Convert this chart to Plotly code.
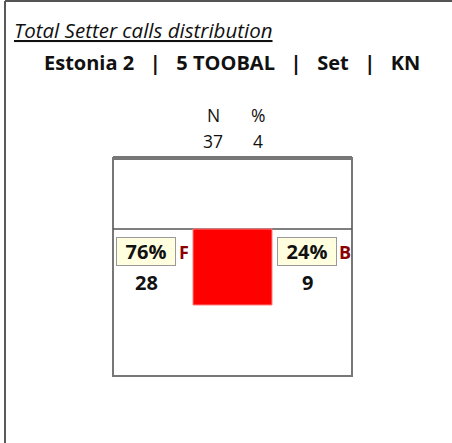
import plotly.graph_objects as go

# Setter call distribution for one rotation
team = "Estonia 2"
player = "5 TOOBAL"
skill = "Set"
code = "KN"
zones = ["F", "B"]
counts = [28, 9]
percents = [76, 24]
total_n = 37
total_pct = 4

# Court layout in pixel-like units (x: left->right, y: top->bottom)
court_x = [113, 352]
court_y = [158, 376]
net_y = 229
# highlighted call zone
zone_x = [193, 272]
zone_y = [229, 305]
label_cx = [146, 307]
tag_x = [184, 345]

FONT = "Open Sans"

fig = go.Figure()

# invisible trace so axes are created
fig.add_trace(go.Scatter(x=[0, 452], y=[0, 443], mode="markers",
                         marker=dict(opacity=0), hoverinfo="skip", showlegend=False))

shapes = []
# outer frame (left and top)
shapes.append(dict(type="line", x0=5, x1=5, y0=1, y1=443, line=dict(color="#222", width=1.5)))
shapes.append(dict(type="line", x0=5, x1=452, y0=1, y1=1, line=dict(color="#555", width=2)))
# court
shapes.append(dict(type="rect", x0=court_x[0], x1=court_x[1], y0=court_y[0], y1=court_y[1],
                   line=dict(color="#777", width=2), fillcolor="white", layer="below"))
shapes.append(dict(type="line", x0=court_x[0], x1=court_x[1], y0=court_y[0], y1=court_y[0],
                   line=dict(color="#777", width=4)))
shapes.append(dict(type="line", x0=court_x[0], x1=court_x[1], y0=net_y, y1=net_y,
                   line=dict(color="#555", width=1.5)))
shapes.append(dict(type="rect", x0=zone_x[0], x1=zone_x[1], y0=zone_y[0], y1=zone_y[1],
                   line=dict(color="#ff8080", width=1), fillcolor="#ff0000"))

annotations = [
    dict(x=12, y=30, xanchor="left", yanchor="middle", showarrow=False,
         text="<i><u>Total Setter calls distribution</u></i>",
         font=dict(family=FONT, size=20.5, color="#111")),
    dict(x=232, y=62, xanchor="center", yanchor="middle", showarrow=False,
         text=f"<b>{team}   |   {player}   |   {skill}   |   {code}</b>",
         font=dict(family=FONT, size=20, color="#111")),
]
for hx, head, val in [(213, "N", total_n), (258, "%", total_pct)]:
    annotations.append(dict(x=hx, y=128, yanchor="bottom", showarrow=False, text=head,
                            borderpad=0, font=dict(family=FONT, size=17.5, color="#111")))
    annotations.append(dict(x=hx, y=128, yanchor="top", showarrow=False, text=str(val),
                            borderpad=0, font=dict(family=FONT, size=17.5, color="#111")))

for z, c, p, cx, tx in zip(zones, counts, percents, label_cx, tag_x):
    annotations.append(dict(x=cx, y=251.5, showarrow=False, text=f"<b>{p}%</b>",
                            font=dict(family=FONT, size=20, color="#111"),
                            bgcolor="#FFFFE0", bordercolor="#999", borderwidth=1,
                            borderpad=0, width=58, height=27))
    annotations.append(dict(x=tx, y=252, showarrow=False, text=f"<b>{z}</b>",
                            font=dict(family=FONT, size=18, color="#8B0000")))
    annotations.append(dict(x=cx, y=282, showarrow=False, text=f"<b>{c}</b>",
                            font=dict(family=FONT, size=20, color="#111")))

fig.update_layout(
    width=452, height=443,
    margin=dict(l=0, r=0, t=0, b=0),
    paper_bgcolor="white", plot_bgcolor="white",
    xaxis=dict(range=[0, 452], visible=False, fixedrange=True),
    yaxis=dict(range=[443, 0], visible=False, fixedrange=True),
    shapes=shapes, annotations=annotations,
    showlegend=False,
)

fig.write_html("out.html", config={"displayModeBar": False})
